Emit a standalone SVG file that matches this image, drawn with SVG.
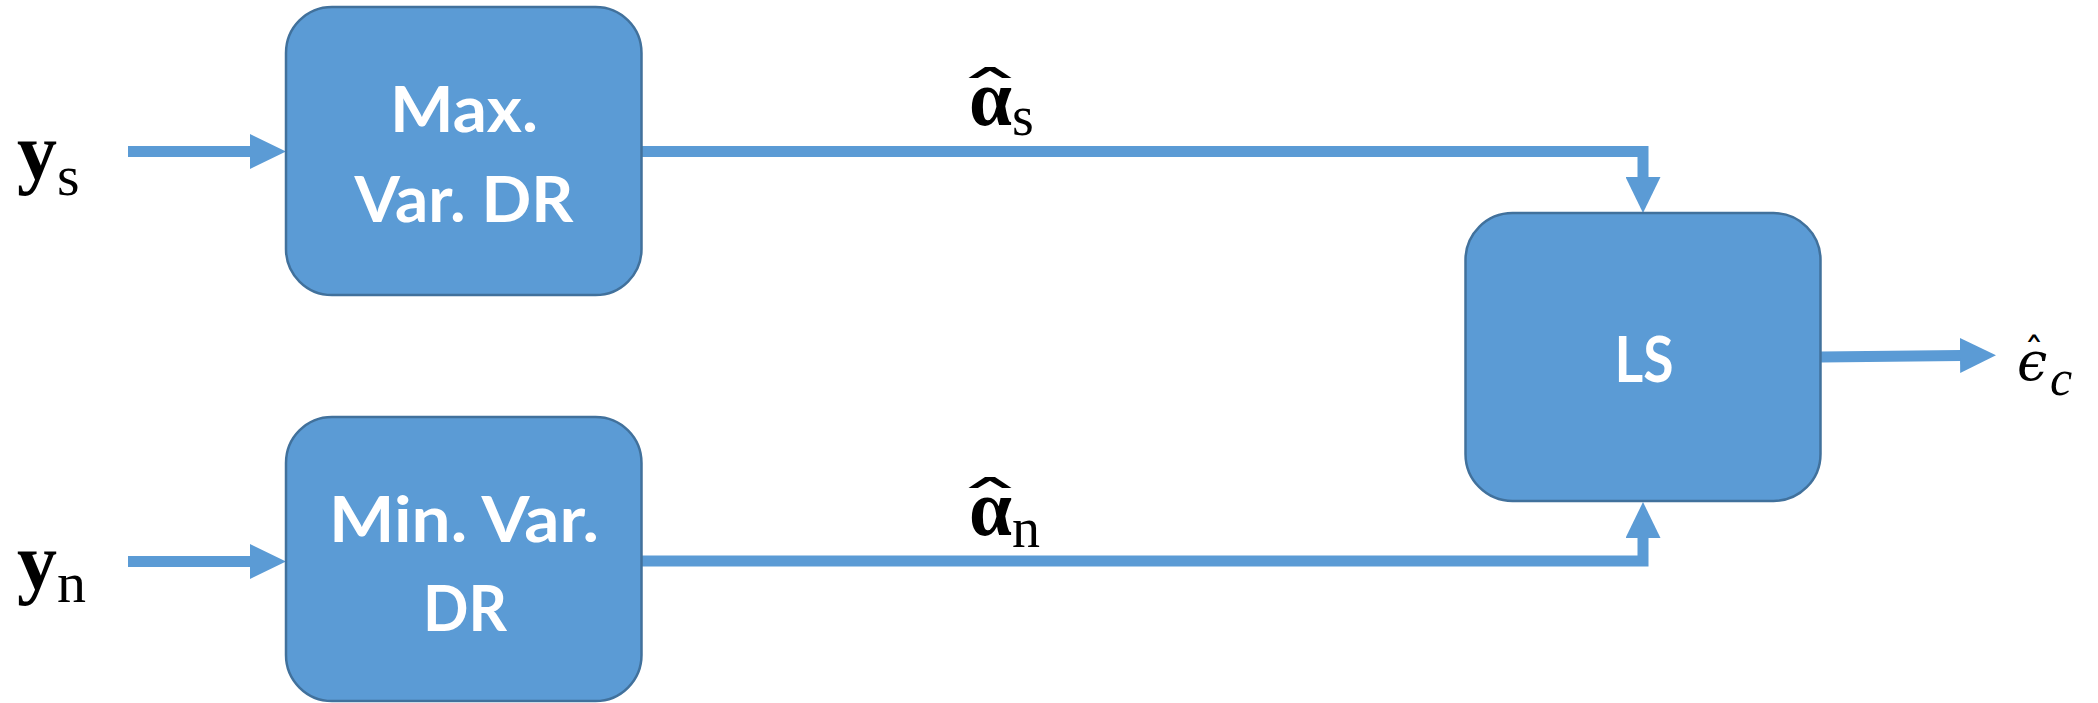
<svg xmlns="http://www.w3.org/2000/svg" width="2098" height="703" viewBox="0 0 2098 703">
  <style>
    .box { fill: #5B9BD5; stroke: #41719C; stroke-width: 2.5; }
    .lbl { fill: #FFFFFF; font-family: Lato, "Open Sans", sans-serif; font-weight: bold; font-size: 64px; text-anchor: middle; }
    .conn { fill: none; stroke: #5B9BD5; stroke-width: 11; stroke-linejoin: miter; stroke-linecap: butt; }
    .mb { font-family: "Liberation Serif", "DejaVu Serif", serif; font-weight: bold; fill: #000; }
    .mr { font-family: "Liberation Serif", "DejaVu Serif", serif; fill: #000; }
    .mi { font-family: "Liberation Serif", "DejaVu Serif", serif; font-style: italic; fill: #000; }
    .eps { font-family: "DejaVu Serif", "Liberation Serif", serif; font-style: italic; fill: #000; }
    .hat { font-family: "DejaVu Sans", sans-serif; fill: #000; text-anchor: middle; }
  </style>
  <defs>
    <marker id="arrow" markerUnits="userSpaceOnUse" viewBox="0 0 36 35" markerWidth="36" markerHeight="35" refX="1" refY="17.5" orient="auto">
      <path d="M0,0 L36,17.5 L0,35 Z" fill="#5B9BD5"/>
    </marker>
  </defs>

  <g id="connectors">
    <line class="conn" x1="128" y1="151.5" x2="251" y2="151.5" marker-end="url(#arrow)"/>
    <line class="conn" x1="128" y1="561.5" x2="251" y2="561.5" marker-end="url(#arrow)"/>
    <polyline class="conn" points="641,151.5 1643,151.5 1643,178" marker-end="url(#arrow)"/>
    <polyline class="conn" points="641,561 1643,561 1643,537" marker-end="url(#arrow)"/>
    <line class="conn" x1="1821" y1="357" x2="1961" y2="355.5" marker-end="url(#arrow)"/>
  </g>

  <g id="node-maxvar">
    <rect class="box" x="286" y="7" width="355.5" height="288" rx="46" ry="46"/>
    <text class="lbl" x="464" y="131.5" textLength="148" lengthAdjust="spacingAndGlyphs">Max.</text>
    <text class="lbl" x="464" y="221.5" textLength="219" lengthAdjust="spacingAndGlyphs">Var. DR</text>
  </g>

  <g id="node-minvar">
    <rect class="box" x="286" y="417" width="355.5" height="284" rx="46" ry="46"/>
    <text class="lbl" x="464" y="542" textLength="270" lengthAdjust="spacingAndGlyphs">Min. Var.</text>
    <text class="lbl" x="465" y="631" textLength="84" lengthAdjust="spacingAndGlyphs">DR</text>
  </g>

  <g id="node-ls">
    <rect class="box" x="1465.5" y="213" width="355" height="288" rx="47" ry="47"/>
    <text class="lbl" x="1644" y="382" textLength="59" lengthAdjust="spacingAndGlyphs">LS</text>
  </g>

  <g id="label-ys">
    <text class="mb" x="17" y="179" font-size="80">y</text>
    <text class="mr" x="57" y="195" font-size="58">s</text>
  </g>
  <g id="label-yn">
    <text class="mb" x="17" y="589" font-size="80">y</text>
    <text class="mr" x="57" y="602" font-size="58">n</text>
  </g>

  <g id="label-alpha-s">
    <text class="hat" font-size="60" transform="translate(990,115) scale(2.3,1)">ˆ</text>
    <text class="mb" x="969" y="125" font-size="80" textLength="43" lengthAdjust="spacingAndGlyphs">α</text>
    <text class="mr" x="1012" y="135" font-size="56">s</text>
  </g>
  <g id="label-alpha-n">
    <text class="hat" font-size="60" transform="translate(990,525) scale(2.3,1)">ˆ</text>
    <text class="mb" x="969" y="535" font-size="80" textLength="43" lengthAdjust="spacingAndGlyphs">α</text>
    <text class="mr" x="1012" y="547" font-size="56">n</text>
  </g>

  <g id="label-eps">
    <text class="hat" x="2034" y="367" font-size="40">ˆ</text>
    <text class="eps" x="2017" y="380" font-size="54">ϵ</text>
    <text class="mi" x="2050" y="395" font-size="50">c</text>
  </g>
</svg>
